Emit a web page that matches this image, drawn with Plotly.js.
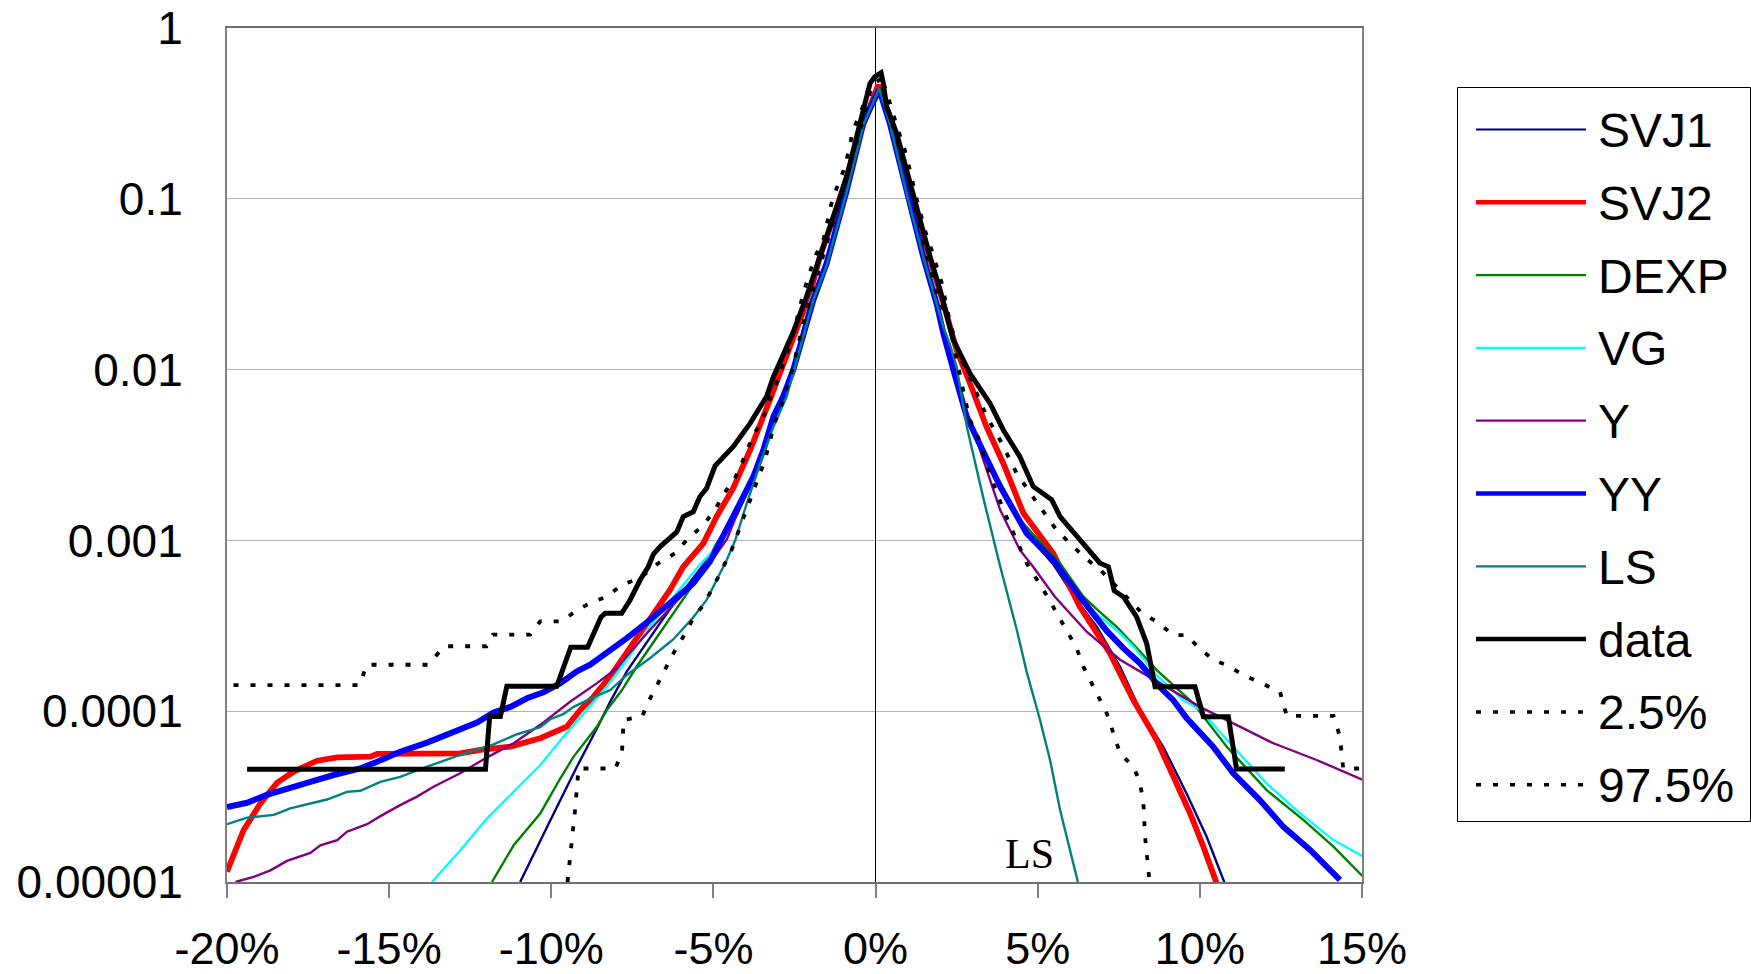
<!DOCTYPE html>
<html>
<head>
<meta charset="utf-8">
<script src="https://cdn.plot.ly/plotly-3.0.1.min.js"></script>
<style>html,body{margin:0;padding:0;background:#fff;}#chart{width:1751px;height:974px;}</style>
</head>
<body>
<div id="chart"></div>
<script>
// ---------- tick labels ----------
const xTickVals = [-20, -15, -10, -5, 0, 5, 10, 15];
const xTickText = ['-20%', '-15%', '-10%', '-5%', '0%', '5%', '10%', '15%'];
const yTickVals = [0.00001, 0.0001, 0.001, 0.01, 0.1, 1];
const yTickText = ['0.00001', '0.0001', '0.001', '0.01', '0.1', '1'];

const seriesNames = ['SVJ1', 'SVJ2', 'DEXP', 'VG', 'Y', 'YY', 'LS', 'data', '2.5%', '97.5%'];

// ---------- series (x in %, y = probability) ----------
const svj1X = [-10.96,-10.44,-10.13,-9.72,-9.21,-8.59,-8.18,-7.67,-7.15,-6.64,-6.13,-5.41,-4.79,-4.28,-3.77,-3.26,-2.85,-2.54,-2.02,-1.51,-0.89,-0.38,0.11,0.44,0.96,1.47,1.88,2.09,2.4,2.81,3.12,3.84,4.66,5.48,6.2,6.82,7.54,8.15,8.87,9.59,10.21,10.77];
const svj1Y = [1e-5,1.57e-5,2.10e-5,3.02e-5,4.73e-5,7.94e-5,1.14e-4,1.71e-4,2.40e-4,3.29e-4,4.51e-4,6.76e-4,9.70e-4,1.41e-3,2.29e-3,4.47e-3,6.76e-3,9.77e-3,2.40e-2,4.27e-2,0.112,0.275,0.437,0.275,0.107,4.57e-2,2.45e-2,1.78e-2,1.05e-2,5.62e-3,3.80e-3,2.09e-3,1.10e-3,7.24e-4,4.47e-4,3.13e-4,1.82e-4,1.02e-4,6.19e-5,3.30e-5,1.84e-5,9.8e-6];

const svj2X = [-20,-19.49,-18.97,-18.46,-17.94,-17.22,-16.6,-15.58,-15.37,-14.35,-12.8,-12.19,-11.26,-10.34,-9.72,-9.52,-9.1,-8.69,-8.18,-7.67,-7.27,-6.75,-6.34,-5.93,-5.31,-4.9,-4.39,-3.87,-3.57,-3.26,-2.95,-2.64,-2.33,-2.02,-1.72,-1.1,-0.48,0.08,0.44,1.06,1.57,2.09,2.5,2.91,3.42,3.94,4.56,5.48,6.3,7.23,7.95,8.67,9.18,9.7,10.11,10.52];
const svj2Y = [1.15e-5,2.01e-5,2.88e-5,3.80e-5,4.43e-5,5.13e-5,5.37e-5,5.42e-5,5.62e-5,5.60e-5,5.66e-5,5.93e-5,6.21e-5,6.95e-5,7.76e-5,8.13e-5,1.02e-4,1.22e-4,1.60e-4,2.19e-4,2.86e-4,3.92e-4,5.13e-4,7.01e-4,9.62e-4,1.38e-3,2.02e-3,3.38e-3,4.84e-3,6.64e-3,9.51e-3,1.36e-2,1.95e-2,2.79e-2,4.57e-2,9.84e-2,0.242,0.463,0.303,0.112,5.25e-2,2.44e-2,1.30e-2,8.32e-3,4.63e-3,2.82e-3,1.44e-3,8.39e-4,4.09e-4,2.18e-4,1.16e-4,6.78e-5,4.14e-5,2.52e-5,1.61e-5,9.8e-6];

const dexpX = [-11.83,-11.16,-10.34,-9.72,-9.31,-8.59,-8.28,-7.82,-7.37,-6.65,-6.03,-5.42,-4.9,-4.28,-3.77,-3.26,-2.85,-2.54,-2.02,-1.51,-0.89,-0.38,0.11,0.44,0.96,1.47,1.88,2.09,2.4,2.81,3.12,3.84,4.45,5.69,6.41,6.92,7.43,8.15,8.67,9.49,9.8,10.83,12.06,13.19,14.12,15.04];
const dexpY = [1e-5,1.64e-5,2.52e-5,4.05e-5,5.42e-5,8.13e-5,1.02e-4,1.33e-4,1.82e-4,2.86e-4,4.29e-4,6.28e-4,9.62e-4,1.44e-3,2.40e-3,4.57e-3,6.76e-3,1e-2,2.51e-2,4.27e-2,0.112,0.275,0.437,0.282,0.110,4.68e-2,2.51e-2,1.74e-2,1.05e-2,5.50e-3,3.98e-3,2.19e-3,1.32e-3,7.35e-4,4.68e-4,3.80e-4,3.13e-4,2.24e-4,1.74e-4,1.26e-4,1.11e-4,6.19e-5,3.45e-5,2.31e-5,1.61e-5,1.07e-5];

const vgX = [-13.68,-12.81,-11.98,-11.16,-10.34,-9.62,-8.9,-8.28,-7.67,-6.95,-6.13,-5.41,-5.0,-4.39,-3.77,-3.26,-2.85,-2.54,-2.02,-1.51,-0.89,-0.38,0.11,0.44,0.96,1.47,1.88,2.09,2.4,2.81,3.12,3.84,4.66,5.48,6.41,7.43,7.95,8.67,9.49,10.0,11.03,12.06,13.09,14.12,15.04];
const vgY = [1e-5,1.53e-5,2.36e-5,3.37e-5,4.84e-5,7.10e-5,1.02e-4,1.40e-4,2.00e-4,3.14e-4,4.93e-4,7.24e-4,8.71e-4,1.38e-3,2.40e-3,4.57e-3,6.92e-3,1e-2,2.51e-2,4.27e-2,0.112,0.275,0.437,0.282,0.110,4.68e-2,2.51e-2,1.70e-2,1.02e-2,5.50e-3,4.07e-3,2.09e-3,1.10e-3,7.59e-4,4.28e-4,2.99e-4,2.39e-4,1.62e-4,1.16e-4,1.02e-4,6.19e-5,3.78e-5,2.52e-5,1.76e-5,1.41e-5];

const yX = [-19.74,-19.18,-18.66,-18.15,-17.43,-17.12,-16.6,-16.3,-15.68,-15.27,-14.66,-14.14,-13.63,-12.81,-11.98,-11.16,-10.34,-9.41,-8.59,-7.97,-7.68,-6.96,-6.24,-5.62,-5.11,-4.58,-4.18,-3.77,-3.26,-2.85,-2.54,-2.02,-1.51,-0.89,-0.38,0.11,0.44,0.96,1.47,1.88,2.09,2.4,2.81,3.12,3.84,4.45,4.86,5.53,6.51,7.54,8.77,10.0,11.03,12.27,13.6,15.04];
const yY = [1e-5,1.07e-5,1.17e-5,1.33e-5,1.48e-5,1.64e-5,1.76e-5,1.97e-5,2.18e-5,2.43e-5,2.82e-5,3.16e-5,3.61e-5,4.33e-5,5.37e-5,6.49e-5,8.32e-5,1.14e-4,1.46e-4,1.79e-4,2.09e-4,2.99e-4,4.19e-4,5.61e-4,7.35e-4,1.02e-3,1.58e-3,2.34e-3,4.47e-3,6.76e-3,1e-2,2.45e-2,4.27e-2,0.112,0.275,0.437,0.275,0.107,4.57e-2,2.40e-2,1.66e-2,1e-2,5.50e-3,3.87e-3,1.51e-3,8.79e-4,7.01e-4,4.68e-4,2.92e-4,2.00e-4,1.46e-4,1.06e-4,8.49e-5,6.49e-5,5.18e-5,3.95e-5];

const yyX = [-20,-19.38,-18.77,-18.15,-17.43,-16.71,-15.89,-15.37,-14.66,-13.83,-13.01,-12.29,-11.78,-11.26,-10.75,-10.24,-9.72,-9.21,-8.8,-8.4,-7.97,-7.68,-6.96,-6.34,-5.62,-5.11,-4.59,-4.18,-3.77,-3.46,-3.15,-2.85,-2.54,-2.23,-1.92,-1.51,-0.89,-0.38,0.11,0.44,0.96,1.47,1.88,2.09,2.4,2.81,3.12,3.84,4.66,5.48,6.3,7.13,7.64,8.15,8.77,9.18,9.59,10.41,11.03,11.85,12.57,13.4,14.32];
const yyY = [2.75e-5,2.91e-5,3.24e-5,3.48e-5,3.86e-5,4.23e-5,4.62e-5,5.06e-5,5.79e-5,6.55e-5,7.50e-5,8.57e-5,9.82e-5,1.06e-4,1.19e-4,1.29e-4,1.46e-4,1.71e-4,1.87e-4,2.13e-4,2.40e-4,2.67e-4,3.42e-4,4.29e-4,5.61e-4,7.52e-4,1.15e-3,1.65e-3,2.36e-3,3.38e-3,5.30e-3,6.95e-3,9.95e-3,1.56e-2,2.55e-2,4.19e-2,0.112,0.277,0.437,0.277,0.108,4.58e-2,2.44e-2,1.63e-2,9.95e-3,5.30e-3,3.98e-3,2.07e-3,1.10e-3,7.67e-4,4.68e-4,2.95e-4,2.34e-4,1.91e-4,1.38e-4,1.16e-4,9.12e-5,6.19e-5,4.33e-5,3.02e-5,2.11e-5,1.54e-5,1.03e-5];

const lsX = [-20,-19.38,-18.56,-18.05,-17.43,-16.92,-16.3,-15.89,-15.27,-14.66,-13.83,-12.81,-11.78,-11.06,-10.34,-10.03,-9.62,-9.31,-8.69,-8.18,-7.67,-6.95,-6.24,-5.62,-5.21,-4.9,-4.59,-4.33,-3.97,-3.56,-3.15,-2.74,-2.54,-2.23,-1.92,-1.51,-0.89,-0.38,0.11,0.44,0.96,1.47,1.88,2.09,2.29,2.5,2.81,3.32,3.84,4.35,4.66,5.07,5.38,5.69,6.25];
const lsY = [2.18e-5,2.38e-5,2.47e-5,2.70e-5,2.88e-5,3.04e-5,3.37e-5,3.42e-5,3.86e-5,4.13e-5,4.73e-5,5.55e-5,6.40e-5,7.33e-5,8.05e-5,8.97e-5,9.64e-5,1.06e-4,1.21e-4,1.33e-4,1.63e-4,2.05e-4,2.63e-4,3.55e-4,4.48e-4,5.86e-4,7.67e-4,1.00e-3,1.65e-3,2.82e-3,4.63e-3,6.95e-3,9.51e-3,1.56e-2,2.55e-2,4.07e-2,0.110,0.269,0.444,0.275,0.107,4.57e-2,2.40e-2,1.78e-2,1.41e-2,1.04e-2,4.68e-3,1.78e-3,7.08e-4,3.02e-4,1.70e-4,8.91e-5,5.18e-5,2.64e-5,9.8e-6];

const dataX = [-19.38,-12.03,-11.9,-11.57,-11.37,-9.83,-9.4,-8.88,-8.47,-8.34,-7.83,-7.57,-7.26,-7.01,-6.85,-6.65,-6.13,-5.93,-5.62,-5.42,-5.21,-4.95,-4.39,-3.87,-3.36,-3.15,-2.9,-2.54,-2.13,-1.72,-1.3,-0.89,-0.48,-0.17,-0.02,0.17,0.24,0.34,0.65,1.06,1.37,1.68,1.99,2.19,2.4,2.91,3.53,3.94,4.45,4.86,5.43,5.69,6.3,6.92,7.18,7.36,7.64,8.05,8.36,8.62,9.85,10.11,10.88,11.13,12.62];
const dataY = [4.57e-5,4.57e-5,9.31e-5,9.31e-5,1.40e-4,1.40e-4,2.37e-4,2.37e-4,3.55e-4,3.74e-4,3.74e-4,4.48e-4,5.86e-4,7.01e-4,8.32e-4,9.18e-4,1.12e-3,1.38e-3,1.47e-3,1.80e-3,2.02e-3,2.73e-3,3.54e-3,4.84e-3,6.95e-3,9.10e-3,1.16e-2,1.66e-2,2.67e-2,4.58e-2,7.85e-2,0.135,0.277,0.474,0.519,0.547,0.474,0.346,0.242,0.123,7.18e-2,4.58e-2,2.92e-2,2.04e-2,1.49e-2,9.51e-3,6.34e-3,4.43e-3,3.09e-3,2.07e-3,1.73e-3,1.38e-3,1.00e-3,7.35e-4,7.01e-4,5.07e-4,4.68e-4,3.57e-4,2.49e-4,1.39e-4,1.39e-4,9.29e-5,9.29e-5,4.59e-5,4.59e-5];

const q025X = [-9.5,-9.36,-9.26,-9.16,-8.03,-7.82,-7.77,-7.2,-7.0,-6.74,-6.23,-5.93,-5.62,-5.31,-5.0,-4.44,-4.03,-3.77,-3.41,-3.1,-2.85,-2.54,-2.28,-2.02,-1.71,-1.3,-0.89,-0.48,-0.1,0.15,0.3,0.6,1.06,1.47,1.88,2.09,2.3,2.65,2.91,3.17,3.5,3.94,4.66,5.27,5.89,6.2,6.41,6.71,7.13,7.54,7.95,8.15,8.26,8.31,8.41,8.45];
const q025Y = [1e-5,1.70e-5,2.72e-5,4.62e-5,4.62e-5,5.66e-5,8.89e-5,9.31e-5,1.14e-4,1.42e-4,2.19e-4,2.73e-4,3.50e-4,4.19e-4,5.36e-4,8.79e-4,1.41e-3,1.97e-3,2.96e-3,4.95e-3,6.64e-3,1.04e-2,1.71e-2,2.55e-2,4.01e-2,7.41e-2,0.132,0.251,0.468,0.501,0.372,0.240,0.117,5.62e-2,2.75e-2,2.23e-2,1.78e-2,8.32e-3,5.07e-3,3.98e-3,2.51e-3,1.51e-3,7.35e-4,4.79e-4,3.02e-4,2.34e-4,1.82e-4,1.39e-4,9.70e-5,5.66e-5,4.73e-5,3.86e-5,2.88e-5,1.84e-5,1.12e-5,1e-5];

const q975X = [-19.8,-15.9,-15.7,-13.8,-13.3,-12.0,-11.8,-10.65,-10.34,-9.67,-9.27,-8.8,-8.29,-7.83,-7.27,-6.7,-6.19,-5.77,-5.31,-4.95,-4.7,-4.34,-4.08,-3.77,-3.51,-3.31,-3.05,-2.64,-2.38,-2.23,-1.87,-1.61,-1.36,-1.15,-0.94,-0.69,-0.43,-0.17,0.1,0.3,0.6,0.96,1.22,1.52,1.73,2.04,2.3,2.6,3.12,3.43,3.84,4.35,5.07,5.58,6.1,6.51,6.92,7.74,8.2,8.67,9.18,9.59,9.95,10.41,10.83,11.34,12.06,12.47,12.68,14.12,14.32,14.42,15.0];
const q975Y = [1.42e-4,1.42e-4,1.87e-4,1.87e-4,2.40e-4,2.40e-4,2.81e-4,2.81e-4,3.36e-4,3.36e-4,3.83e-4,4.31e-4,4.68e-4,5.48e-4,6.00e-4,7.35e-4,8.39e-4,1.03e-3,1.23e-3,1.51e-3,1.85e-3,2.31e-3,2.96e-3,4.14e-3,4.95e-3,6.34e-3,8.32e-3,1.39e-2,2.13e-2,2.80e-2,4.58e-2,5.74e-2,9.40e-2,0.123,0.154,0.253,0.331,0.474,0.537,0.447,0.289,0.177,0.108,6.56e-2,5.01e-2,3.20e-2,1.87e-2,1.19e-2,7.26e-3,5.30e-3,3.87e-3,2.47e-3,1.57e-3,1.15e-3,9.18e-4,7.76e-4,6.76e-4,4.68e-4,3.78e-4,3.34e-4,2.79e-4,2.79e-4,2.37e-4,2.00e-4,1.86e-4,1.63e-4,1.40e-4,1.30e-4,9.38e-5,9.38e-5,7.10e-5,4.62e-5,4.62e-5];

const annotationText = 'LS';
const annotationX = 4.76;
const annotationY = 1.46e-5;

// ---------- styles ----------
const seriesData = {
  'SVJ1': [svj1X, svj1Y], 'SVJ2': [svj2X, svj2Y], 'DEXP': [dexpX, dexpY], 'VG': [vgX, vgY],
  'Y': [yX, yY], 'YY': [yyX, yyY], 'LS': [lsX, lsY], 'data': [dataX, dataY],
  '2.5%': [q025X, q025Y], '97.5%': [q975X, q975Y]
};
const DOT = '5px,12px';
const styles = {
  'SVJ1': {color: '#000080', width: 2.4},
  'SVJ2': {color: '#ff0000', width: 5.8},
  'DEXP': {color: '#008000', width: 2.4},
  'VG': {color: '#00ffff', width: 2.4},
  'Y': {color: '#800080', width: 2.4},
  'YY': {color: '#0000ff', width: 6},
  'LS': {color: '#008080', width: 2.4},
  'data': {color: '#000000', width: 5},
  '2.5%': {color: '#000000', width: 3.8, dash: DOT},
  '97.5%': {color: '#000000', width: 3.8, dash: DOT}
};
const legendWidths = {'SVJ1': 2.2, 'SVJ2': 4.5, 'DEXP': 2.2, 'VG': 2.2, 'Y': 2.2, 'YY': 4.5, 'LS': 2.2, 'data': 4.5, '2.5%': 3.5, '97.5%': 3.5};

const FONT = '"Liberation Sans", Arial, sans-serif';
const W = 1751, H = 974;
const M = {l: 227, r: 389, t: 28, b: 92};
const plotW = W - M.l - M.r, plotH = H - M.t - M.b;
const px2x = px => (px - M.l) / plotW;
const px2y = py => (H - M.b - py) / plotH;

const traces = seriesNames.map(n => ({
  type: 'scatter', mode: 'lines', name: n,
  x: seriesData[n][0], y: seriesData[n][1],
  line: Object.assign({shape: 'linear'}, styles[n]),
  showlegend: false, hoverinfo: 'x+y+name'
}));

// ---------- custom legend (long line samples like the original) ----------
const shapes = [{
  type: 'rect', xref: 'paper', yref: 'paper',
  x0: px2x(1457.5), x1: px2x(1750.5), y0: px2y(821.5), y1: px2y(87.5),
  line: {color: '#000', width: 1}, fillcolor: 'rgba(0,0,0,0)', layer: 'above'
}];
const annotations = [{
  x: annotationX, y: Math.log10(annotationY), xref: 'x', yref: 'y',
  text: annotationText, showarrow: false, xanchor: 'center', yanchor: 'middle',
  font: {family: '"Liberation Serif", "Times New Roman", serif', size: 42, color: '#000'}
}];
seriesNames.forEach((n, i) => {
  const yy = 129.5 + 72.8 * i;
  const st = styles[n];
  shapes.push({
    type: 'line', xref: 'paper', yref: 'paper',
    x0: px2x(1476), x1: px2x(1586), y0: px2y(yy), y1: px2y(yy),
    line: {color: st.color, width: legendWidths[n], dash: st.dash || 'solid'}
  });
  annotations.push({
    xref: 'paper', yref: 'paper', x: px2x(1596), y: px2y(yy + 1),
    text: n, showarrow: false, xanchor: 'left', yanchor: 'middle',
    font: {family: FONT, size: 48, color: '#000'}
  });
});

const layout = {
  width: W, height: H,
  margin: M,
  paper_bgcolor: '#ffffff', plot_bgcolor: '#ffffff',
  font: {family: FONT, size: 46, color: '#000'},
  showlegend: false,
  xaxis: {
    range: [-20, 15], tickmode: 'array', tickvals: xTickVals, ticktext: xTickText,
    ticks: 'outside', ticklen: 14, tickwidth: 2, tickcolor: '#808080',
    ticklabelstandoff: 12,
    showline: true, linecolor: '#707070', linewidth: 2, mirror: true,
    showgrid: false, zeroline: true, zerolinecolor: '#000000', zerolinewidth: 1,
    tickfont: {family: FONT, size: 45, color: '#000'}
  },
  yaxis: {
    type: 'log', range: [-5, 0], tickmode: 'array', tickvals: yTickVals, ticktext: yTickText,
    ticks: '', ticklabelstandoff: 33,
    showline: true, linecolor: '#808080', linewidth: 2, mirror: true,
    showgrid: true, gridcolor: '#b4b4b4', gridwidth: 1, zeroline: false,
    tickfont: {family: FONT, size: 46, color: '#000'}
  },
  shapes: shapes,
  annotations: annotations
};

Plotly.newPlot('chart', traces, layout, {displayModeBar: false, staticPlot: true});
</script>
</body>
</html>
